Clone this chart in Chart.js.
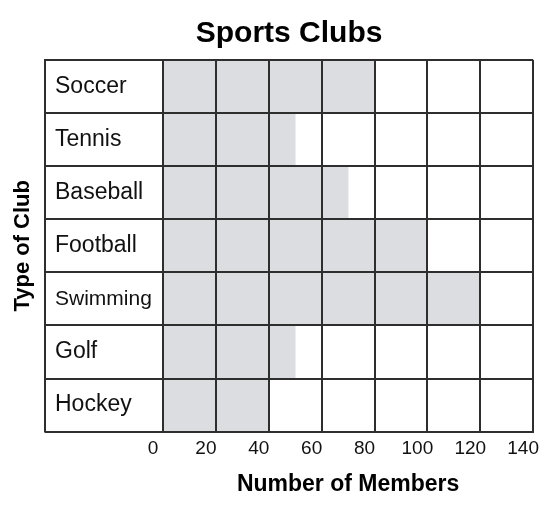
<!DOCTYPE html>
<html>
<head>
<meta charset="utf-8">
<script src="https://cdn.jsdelivr.net/npm/chart.js@4"></script>
<style>
  html, body { margin: 0; padding: 0; background: #fff; }
</style>
</head>
<body>
<canvas id="clubsChart" width="555" height="508"></canvas>
<script>
    // chart values
    const clubs = ['Soccer', 'Tennis', 'Baseball', 'Football', 'Swimming', 'Golf', 'Hockey'];
    const members = [80, 50, 70, 100, 120, 50, 40];
    const memberTicks = [0, 20, 40, 60, 80, 100, 120, 140];

    const lineColor = '#2e2e2e';

    Chart.defaults.font.family = "'Liberation Sans', Arial, sans-serif";
    Chart.defaults.color = '#000';

    // left edge of the label column + centre the title over the whole table
    const tableFrame = {
        id: 'tableFrame',
        afterLayout(chart) {
            chart.titleBlock.left = chart.scales.y.left - 10;
            chart.titleBlock.right = chart.chartArea.right;
        },
        afterDraw(chart) {
            const { ctx, chartArea } = chart;
            const x = chart.scales.y.left - 10;
            ctx.save();
            ctx.strokeStyle = lineColor;
            ctx.lineWidth = 2;
            ctx.beginPath();
            ctx.moveTo(x, chartArea.top - 1);
            ctx.lineTo(x, chartArea.bottom + 1);
            ctx.stroke();
            ctx.restore();
        }
    };

    const ctx1 = document.getElementById('clubsChart').getContext('2d');

    const clubsChart = new Chart(ctx1, {
        type: 'bar',
        data: {
            labels: clubs,
            datasets: [{
                data: members,
                backgroundColor: '#dcdde0',
                borderWidth: 0,
                barPercentage: 1,
                categoryPercentage: 1
            }]
        },
        plugins: [tableFrame],
        options: {
            indexAxis: 'y',
            responsive: false,
            animation: false,
            devicePixelRatio: 1,
            layout: {
                padding: { left: 0, top: 0, right: 18, bottom: 0 }
            },
            plugins: {
                legend: { display: false },
                tooltip: { enabled: false },
                title: {
                    display: true,
                    text: 'Sports Clubs',
                    font: { size: 30, weight: 'bold' },
                    padding: { top: 16, bottom: 8 }
                }
            },
            scales: {
                x: {
                    type: 'linear',
                    min: 0,
                    max: 140,
                    afterBuildTicks: (s) => { s.ticks = memberTicks.map(v => ({ value: v })); },
                    grid: { color: lineColor, lineWidth: 2, drawTicks: false, z: 1 },
                    border: { display: true, color: lineColor, width: 2, z: 1 },
                    ticks: {
                        font: { size: 19 },
                        color: '#111',
                        padding: 6,
                        labelOffset: -10,
                        maxRotation: 0
                    },
                    title: {
                        display: true,
                        text: 'Number of Members',
                        font: { size: 23, weight: 'bold' },
                        padding: { top: 4, bottom: 10 }
                    }
                },
                y: {
                    type: 'category',
                    offset: true,
                    afterFit: (s) => { s.width = 108; },
                    grid: { offset: true, color: lineColor, lineWidth: 2, tickLength: 118, z: 1 },
                    border: { display: true, color: lineColor, width: 2, z: 1 },
                    ticks: {
                        crossAlign: 'far',
                        color: '#111',
                        font: (c) => ({ size: clubs[c.index] === 'Swimming' ? 21 : 23 })
                    }
                },
                yTitle: {
                    type: 'category',
                    axis: 'y',
                    position: 'left',
                    weight: 1,
                    afterFit: (s) => { s.width = 55; },
                    grid: { display: false },
                    border: { display: false },
                    ticks: { display: false },
                    title: {
                        display: true,
                        text: 'Type of Club',
                        font: { size: 22, weight: 'bold' },
                        padding: { top: 10, bottom: 0 }
                    }
                }
            }
        }
    });
</script>
</body>
</html>
